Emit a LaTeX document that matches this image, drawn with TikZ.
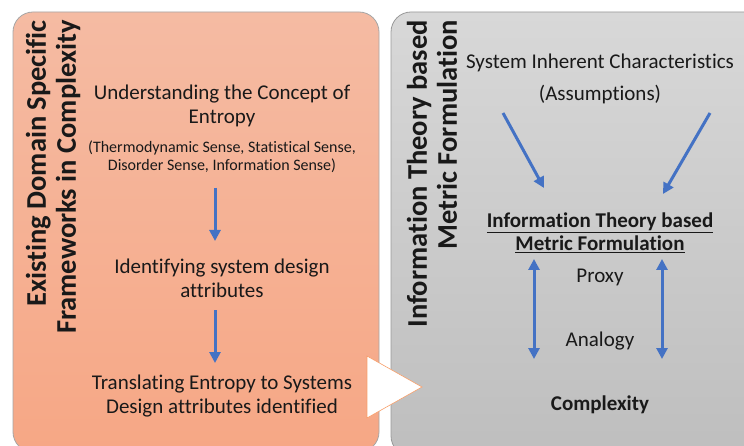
\documentclass[tikz,border=0pt]{standalone}
\usepackage{fontspec}
\setmainfont{Carlito}[Ligatures={NoCommon}]
\usetikzlibrary{arrows.meta}
\definecolor{arrowblue}{RGB}{68,114,196}
\definecolor{orangetop}{RGB}{245,187,163}
\definecolor{orangebot}{RGB}{246,167,133}
\definecolor{graytop}{RGB}{216,216,216}
\definecolor{graybot}{RGB}{190,190,190}
\definecolor{txt}{RGB}{25,25,25}
\tikzset{
  panel/.style={rounded corners=20pt, draw=#1, line width=0.8pt},
  maintext/.style={font=\fontsize{21}{24}\selectfont, text=txt, align=center, inner sep=0pt},
  smalltext/.style={font=\fontsize{16}{18}\selectfont, text=txt, align=center, inner sep=0pt},
  boldtext/.style={font=\bfseries\fontsize{21}{23}\selectfont, text=txt, align=center, inner sep=0pt},
  title/.style={font=\bfseries\fontsize{28.5}{30}\selectfont, text=txt, align=right, rotate=90, inner sep=0pt, anchor=east},
  flow/.style={draw=arrowblue, line width=3pt, -{Triangle[length=11pt,width=11pt]}},
  both/.style={draw=arrowblue, line width=3pt, {Triangle[length=11pt,width=11pt]}-{Triangle[length=11pt,width=11pt]}},
}
\begin{document}
\begin{tikzpicture}[x=1pt,y=-1pt]
\useasboundingbox (0,0) rectangle (744,446);
\clip (0,0) rectangle (744,446);
\fill[white] (0,0) rectangle (744,446);
% panels
\shade[panel=gray!70, top color=orangetop, bottom color=orangebot] (13,12) rectangle (379,452);
\shade[panel=gray!80, top color=graytop, bottom color=graybot] (391,12) rectangle (770,456);
% transition triangle
\filldraw[fill=white, draw=orangebot!80!orange, line width=0.6pt] (367,356) -- (422,387) -- (367,418) -- cycle;
% titles
\node[title] (ltitle) at (53,20) {Existing Domain Specific\\Frameworks in Complexity};
\node[title] (rtitle) at (432,20) {Information Theory based\\Metric Formulation};
% left column
\node[maintext] (concept) at (222,106) {Understanding the Concept of\\Entropy};
\node[smalltext] (senses) at (222,157) {(Thermodynamic Sense, Statistical Sense,\\Disorder Sense, Information Sense)};
\node[maintext] (identify) at (222,278) {Identifying system design\\attributes};
\node[maintext] (translate) at (222,396) {Translating Entropy to Systems\\Design attributes identified};
\coordinate (a1s) at (215,188);
\coordinate (a1e) at (215,241);
\coordinate (a2s) at (215,310);
\coordinate (a2e) at (215,363);
\draw[flow] (a1s) -- (a1e);
\draw[flow] (a2s) -- (a2e);
% right column
\node[maintext] (sys) at (600,63) {System Inherent Characteristics};
\node[maintext] (assum) at (600,95) {(Assumptions)};
\node[boldtext] (itm) at (600,233) {\underline{Information Theory based}\\\underline{Metric Formulation}};
\node[maintext] (proxy) at (600,277) {Proxy};
\node[maintext] (analogy) at (600,341) {Analogy};
\node[boldtext] (cx) at (600,405) {Complexity};
\coordinate (d1s) at (503,113);
\coordinate (d1e) at (544,188);
\coordinate (d2s) at (710,113);
\coordinate (d2e) at (663,194);
\draw[flow] (d1s) -- (d1e);
\draw[flow] (d2s) -- (d2e);
\coordinate (b1t) at (534,259);
\coordinate (b1b) at (534,359);
\coordinate (b2t) at (662,259);
\coordinate (b2b) at (662,359);
\draw[both] (b1t) -- (b1b);
\draw[both] (b2t) -- (b2b);
\end{tikzpicture}
\end{document}
